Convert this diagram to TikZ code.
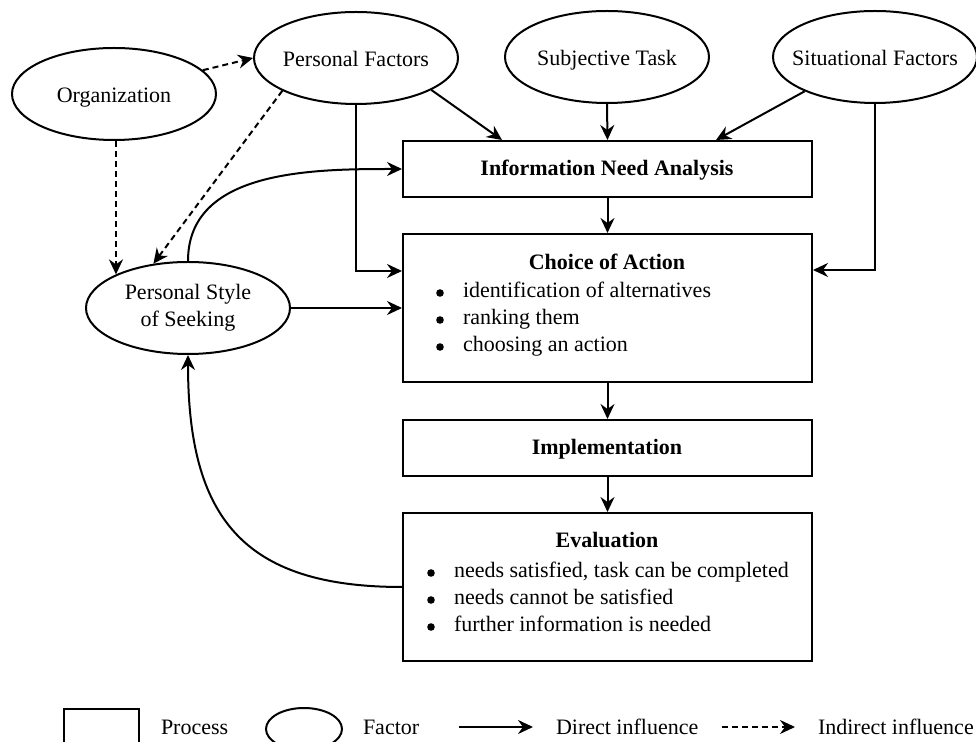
\documentclass[tikz,border=0pt]{standalone}
\usepackage{fontspec}
\setmainfont{Liberation Serif}
\usetikzlibrary{arrows.meta,shapes.geometric,calc}

\begin{document}
\begin{tikzpicture}[x=0.5pt,y=-0.5pt,
  font=\fontsize{11}{13.5}\selectfont,
  line width=1pt,
  arr/.style={-{Stealth[length=7.5pt,width=7pt,inset=2.5pt]}},
  indirect/.style={arr,dash pattern=on 3pt off 2pt},
  factor/.style={draw,ellipse,minimum width=102pt,minimum height=46pt,
    inner xsep=-8pt,inner ysep=0pt,align=center},
  oneline/.style={text height=9.5pt,text depth=1pt},
  process/.style={draw,rectangle,minimum width=204.5pt,inner sep=0pt},
  txt/.style={inner sep=0pt,anchor=base west},
  bul/.style={circle,fill,inner sep=0pt,minimum size=3.8pt},
  ttl/.style={inner sep=0pt,anchor=base,font=\fontsize{11}{13.5}\selectfont\bfseries}
]
\useasboundingbox (0,0) rectangle (976,742);

% factors
\node[factor,oneline] (org) at (114,94) {Organization};
\node[factor,oneline] (pf)  at (356,58) {Personal Factors};
\node[factor,oneline] (st)  at (607,57) {Subjective Task};
\node[factor,oneline] (sf)  at (875,57) {Situational Factors};
\node[factor] (pss) at (188,308) {Personal Style\\of Seeking};

% processes
\node[process,minimum height=28pt] (ina) at (607.5,169) {};
\node[process,minimum height=74pt] (coa) at (607.5,308) {};
\node[process,minimum height=28pt] (imp) at (607.5,448) {};
\node[process,minimum height=74pt] (eva) at (607.5,587) {};

\node[ttl] (inaT) at (607,176) {Information Need Analysis};

\node[ttl] (coaT) at (607,270) {Choice of Action};
\node[bul] (coaB1) at (440,293) {};
\node[txt] (coa1)  at (462,298) {identification of alternatives};
\node[bul] (coaB2) at (440,320) {};
\node[txt] (coa2)  at (462,325) {ranking them};
\node[bul] (coaB3) at (440,347) {};
\node[txt] (coa3)  at (462,352) {choosing an action};

\node[ttl] (impT) at (607,455) {Implementation};

\node[ttl] (evaT) at (607,548) {Evaluation};
\node[bul] (evaB1) at (431,573) {};
\node[txt] (eva1)  at (453,578) {needs satisfied, task can be completed};
\node[bul] (evaB2) at (431,600) {};
\node[txt] (eva2)  at (453,605) {needs cannot be satisfied};
\node[bul] (evaB3) at (431,627) {};
\node[txt] (eva3)  at (453,632) {further information is needed};

% indirect influences
\draw[indirect] (org.15) -- (pf.west);
\draw[indirect] (pss.155 |- org.south) -- (pss.155);
\draw[indirect] (pf.-156) -- (pss.128);

% direct influences
\draw[arr] (pf.-23) -- ($(ina.north west)+(100,0)$);
\draw[arr] (st.south) -- (ina.north);
\draw[arr] (sf.-154) -- ($(ina.north east)+(-97,0)$);
\draw[arr] (pf.south) |- ([yshift=18.5pt]coa.west);
\draw[arr] (sf.south) |- ([yshift=19pt]coa.east);
\draw[arr] (pss.north) to[out=90,in=180] (ina.west);
\draw[arr] (pss.east) -- (coa.west);
\draw[arr] (ina.south) -- (coa.north);
\draw[arr] (coa.south) -- (imp.north);
\draw[arr] (imp.south) -- (eva.north);
\draw[arr] (eva.west) to[out=180,in=-90,looseness=1.3] (pss.south);

% legend
\begin{scope}
  \clip (0,700) rectangle (976,742);
  \node[draw,rectangle,minimum width=37.5pt,minimum height=20pt,inner sep=0pt,anchor=north west] (lgP) at (63,708) {};
  \node[draw,ellipse,minimum width=38pt,minimum height=21pt,inner sep=0pt] (lgF) at (304,729) {};
\end{scope}
\node[txt] (lgPT) at (160,735) {Process};
\node[txt] (lgFT) at (362,735) {Factor};
\coordinate (lgD1) at (459,727);
\coordinate (lgD2) at (533,727);
\draw[arr] (lgD1) -- (lgD2);
\node[txt] (lgDT) at (555,735) {Direct influence};
\coordinate (lgI1) at (722,727);
\coordinate (lgI2) at (795,727);
\draw[indirect] (lgI1) -- (lgI2);
\node[txt] (lgIT) at (817,735) {Indirect influence};
\end{tikzpicture}
\end{document}
